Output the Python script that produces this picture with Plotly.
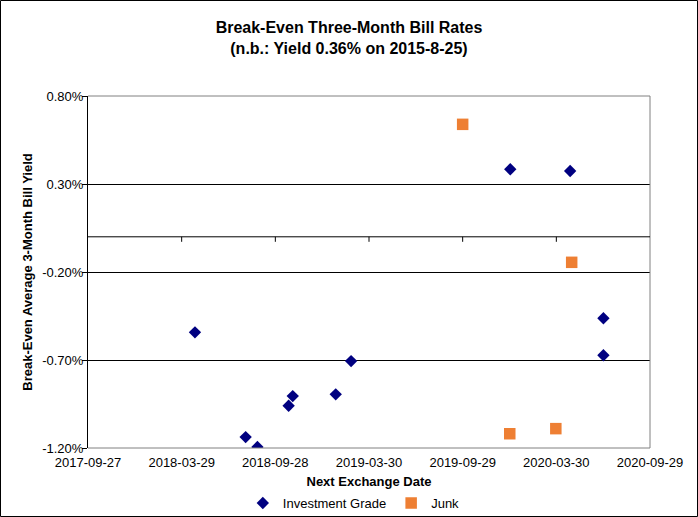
import plotly.graph_objects as go

# ---- data ----
ig_dates = ["2018-04-24", "2018-08-01", "2018-08-24", "2018-10-24", "2018-11-01",
            "2019-01-24", "2019-02-23", "2019-12-31", "2020-04-26", "2020-06-30", "2020-06-30"]
ig_yield = [-0.543, -1.138, -1.194, -0.960, -0.905, -0.895, -0.706, 0.384, 0.374, -0.463, -0.673]

junk_dates = ["2019-09-29", "2020-04-29", "2019-12-30", "2020-03-29"]
junk_yield = [0.639, -0.145, -1.119, -1.090]

x_ticks = ["2017-09-27", "2018-03-29", "2018-09-28", "2019-03-30", "2019-09-29", "2020-03-30", "2020-09-29"]
y_ticks = [-1.20, -0.70, -0.20, 0.30, 0.80]
y_tick_text = [f"{v:.2f}%" for v in y_ticks]

FONT = "Arial, 'Liberation Sans', sans-serif"

fig = go.Figure()
fig.add_trace(go.Scatter(
    x=ig_dates, y=ig_yield, mode="markers", name="Investment Grade",
    marker=dict(symbol="diamond", size=9.5, color="#000080", line=dict(width=0)),
))
fig.add_trace(go.Scatter(
    x=junk_dates, y=junk_yield, mode="markers", name="Junk",
    marker=dict(symbol="square", size=11.5, color="#EE7F33", line=dict(width=0)),
))

W, H = 698, 517
L, R, T, B = 88, 48, 96, 69
pw, ph = W - L - R, H - T - B

shapes = []
# gray plot-area border: top, right, bottom
for (x0, y0, x1, y1) in [(0, 1, 1, 1), (1, 0, 1, 1), (0, 0, 1, 0)]:
    shapes.append(dict(type="line", xref="paper", yref="paper", x0=x0, y0=y0, x1=x1, y1=y1,
                       line=dict(color="#808080", width=1), layer="above"))
# horizontal axis crossing at zero, with tick marks
shapes.append(dict(type="line", xref="paper", yref="y", x0=0, x1=1, y0=0, y1=0,
                   line=dict(color="black", width=1)))
for d in x_ticks[1:-1]:
    shapes.append(dict(type="line", xref="x", yref="y",
                       ysizemode="pixel", yanchor=0, x0=d, x1=d, y0=0, y1=-5,
                       line=dict(color="black", width=1)))
# outer chart border
shapes.append(dict(type="rect", xref="paper", yref="paper",
                   x0=(0.5 - L) / pw, x1=(W - 0.5 - L) / pw,
                   y0=-(B - 0.5) / ph, y1=1 + (T - 0.5) / ph,
                   line=dict(color="black", width=1)))

fig.update_layout(
    width=W, height=H,
    margin=dict(l=L, r=R, t=T, b=B, pad=0, autoexpand=False),
    paper_bgcolor="white", plot_bgcolor="white",
    font=dict(family=FONT, size=13, color="black"),
    title=dict(
        text="<b>Break-Even Three-Month Bill Rates<br>(n.b.: Yield 0.36% on 2015-8-25)</b>",
        x=0.5, xref="container", xanchor="center",
        y=1 - 33 / H, yref="container", yanchor="top",
        font=dict(family=FONT, size=16, color="black"),
    ),
    xaxis=dict(
        type="date", range=[x_ticks[0], x_ticks[-1]],
        tickvals=x_ticks, ticktext=x_ticks,
        showgrid=False, zeroline=False, showline=False, ticks="",
        ticklabelstandoff=5, automargin=False,
        tickfont=dict(size=13),
        title=dict(text="<b>Next Exchange Date</b>", font=dict(size=13), standoff=7),
    ),
    yaxis=dict(
        range=[y_ticks[0], y_ticks[-1]],
        tickvals=y_ticks, ticktext=y_tick_text,
        showgrid=True, gridcolor="black", gridwidth=1,
        zeroline=False, automargin=False,
        showline=True, linecolor="black", linewidth=1,
        ticks="outside", ticklen=5, tickcolor="black",
        ticklabelstandoff=-4,
        tickfont=dict(size=13),
        title=dict(text="<b>Break-Even Average 3-Month Bill Yield</b>", font=dict(size=13), standoff=6),
    ),
    showlegend=True,
    legend=dict(
        orientation="h", x=0.473, xanchor="center", y=-(503 - 448) / ph, yanchor="middle",
        font=dict(size=13), itemwidth=30, bgcolor="rgba(0,0,0,0)",
    ),
    shapes=shapes,
)

fig.write_html("out.html", config={"displayModeBar": False},
               post_script="document.body.style.margin='0';")
